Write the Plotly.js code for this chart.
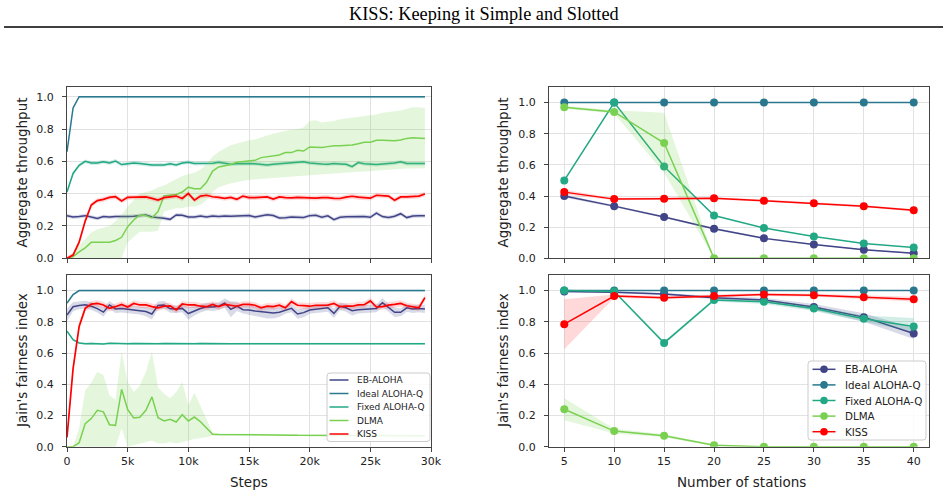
<!DOCTYPE html>
<html>
<head>
<meta charset="utf-8">
<script src="https://cdn.plot.ly/plotly-3.0.1.min.js"></script>
<style>html,body{margin:0;padding:0;background:#fff;}#chart{width:948px;height:496px;}</style>
</head>
<body>
<div id="chart"></div>
<script>
// ---------- data: left panels (vs steps) ----------
const steps = [0,500,1000,1500,2000,2500,3000,3500,4000,4500,5000,5500,6000,6500,7000,7500,8000,8500,9000,9500,10000,10500,11000,11500,12000,12500,13000,13500,14000,14500,15000,15500,16000,16500,17000,17500,18000,18500,19000,19500,20000,20500,21000,21500,22000,22500,23000,23500,24000,24500,25000,25500,26000,26500,27000,27500,28000,28500,29000,29500];
const stepTicks = [0,5000,10000,15000,20000,25000,30000];
const stepTickText = ['0','5k','10k','15k','20k','25k','30k'];

const thrEB = [0.264,0.255,0.258,0.264,0.255,0.247,0.258,0.255,0.258,0.257, 0.258,0.260,0.263,0.268,0.256,0.254,0.248,0.241,0.268,0.266, 0.255,0.255,0.262,0.256,0.262,0.258,0.262,0.260,0.262,0.262, 0.265,0.255,0.263,0.270,0.265,0.250,0.251,0.256,0.254,0.252, 0.264,0.266,0.254,0.263,0.239,0.254,0.257,0.258,0.260,0.259, 0.254,0.280,0.258,0.252,0.260,0.276,0.252,0.262,0.263,0.263];
const thrIdeal = [0.66,0.93,1,1,1,1,1,1,1,1, 1,1,1,1,1,1,1,1,1,1, 1,1,1,1,1,1,1,1,1,1, 1,1,1,1,1,1,1,1,1,1, 1,1,1,1,1,1,1,1,1,1, 1,1,1,1,1,1,1,1,1,1];
const thrFixed = [0.41,0.525,0.575,0.600,0.590,0.590,0.598,0.590,0.602,0.580, 0.585,0.590,0.587,0.580,0.577,0.577,0.578,0.585,0.578,0.590, 0.595,0.587,0.587,0.587,0.588,0.594,0.590,0.582,0.585,0.587, 0.587,0.585,0.580,0.577,0.582,0.585,0.585,0.588,0.592,0.597, 0.590,0.585,0.584,0.582,0.586,0.584,0.582,0.567,0.592,0.585, 0.582,0.580,0.583,0.586,0.590,0.597,0.587,0.586,0.588,0.586];
const thrDLMA = [0,0.01,0.04,0.065,0.10,0.10,0.10,0.10,0.11,0.13, 0.196,0.237,0.268,0.264,0.250,0.289,0.386,0.390,0.395,0.410, 0.440,0.430,0.430,0.470,0.540,0.565,0.572,0.580,0.595,0.600, 0.602,0.606,0.623,0.629,0.635,0.639,0.654,0.654,0.668,0.664, 0.689,0.687,0.685,0.691,0.697,0.697,0.697,0.701,0.709,0.718, 0.718,0.730,0.730,0.728,0.728,0.732,0.742,0.746,0.744,0.742];
const thrDLMAlo = [0,0,0,0,0,0,0,0,0,0, 0.10,0.13,0.165,0.165,0.165,0.17,0.29,0.30,0.31,0.31, 0.32,0.32,0.33,0.36,0.41,0.44,0.455,0.465,0.47,0.48, 0.485,0.487,0.49,0.495,0.497,0.50,0.503,0.505,0.508,0.51, 0.515,0.517,0.52,0.522,0.525,0.527,0.53,0.532,0.535,0.537, 0.54,0.542,0.545,0.547,0.55,0.552,0.555,0.556,0.557,0.558];
const thrDLMAhi = [0,0.03,0.08,0.12,0.16,0.18,0.19,0.20,0.23,0.27, 0.32,0.36,0.40,0.41,0.42,0.44,0.45,0.47,0.49,0.51, 0.52,0.53,0.55,0.58,0.63,0.66,0.68,0.70,0.71,0.72, 0.73,0.735,0.75,0.76,0.77,0.78,0.79,0.795,0.80,0.81, 0.85,0.855,0.84,0.845,0.85,0.86,0.865,0.87,0.875,0.88, 0.885,0.89,0.90,0.905,0.91,0.915,0.925,0.935,0.935,0.93];
const thrKISS = [0,0.02,0.10,0.23,0.33,0.357,0.365,0.377,0.381,0.355, 0.377,0.377,0.380,0.380,0.371,0.360,0.375,0.381,0.385,0.370, 0.402,0.360,0.385,0.390,0.381,0.377,0.371,0.377,0.365,0.385, 0.376,0.376,0.378,0.380,0.367,0.380,0.376,0.374,0.377,0.375, 0.372,0.372,0.375,0.376,0.371,0.370,0.378,0.384,0.378,0.376, 0.372,0.390,0.388,0.385,0.359,0.380,0.380,0.382,0.385,0.398];
const thrSpreadEB = 0.012, thrSpreadFixed = 0.012, thrSpreadKISS = 0.015, thrSpreadIdeal = 0.01;

const fairEB = [0.844,0.897,0.905,0.910,0.900,0.885,0.862,0.908,0.882,0.885, 0.880,0.876,0.872,0.866,0.850,0.905,0.908,0.883,0.882,0.886, 0.853,0.870,0.885,0.897,0.895,0.900,0.920,0.880,0.900,0.878, 0.876,0.869,0.865,0.861,0.857,0.861,0.876,0.886,0.850,0.859, 0.876,0.882,0.886,0.890,0.854,0.900,0.890,0.871,0.878,0.880, 0.886,0.886,0.923,0.890,0.861,0.861,0.890,0.882,0.886,0.882];
const fairEBspread = [0.04,0.03,0.025,0.025,0.025,0.025,0.03,0.025,0.025,0.025, 0.025,0.025,0.025,0.03,0.035,0.025,0.025,0.025,0.025,0.025, 0.04,0.03,0.025,0.025,0.025,0.025,0.03,0.05,0.03,0.025, 0.03,0.03,0.035,0.04,0.035,0.03,0.025,0.025,0.03,0.03, 0.025,0.025,0.025,0.025,0.03,0.025,0.025,0.03,0.025,0.025, 0.025,0.025,0.03,0.025,0.03,0.025,0.025,0.025,0.025,0.025];
const fairIdeal = [0.92,0.975,1,1,1,1,1,1,1,1, 1,1,1,1,1,1,1,1,1,1, 1,1,1,1,1,1,1,1,1,1, 1,1,1,1,1,1,1,1,1,1, 1,1,1,1,1,1,1,1,1,1, 1,1,1,1,1,1,1,1,1,1];
const fairFixed = [0.74,0.685,0.665,0.660,0.661,0.660,0.658,0.662,0.660,0.660, 0.660,0.661,0.660,0.659,0.660,0.660,0.661,0.660,0.660,0.659, 0.660,0.660,0.661,0.660,0.660,0.660,0.660,0.659,0.660,0.661, 0.660,0.660,0.660,0.660,0.661,0.660,0.660,0.660,0.660,0.660, 0.660,0.660,0.660,0.659,0.660,0.660,0.660,0.660,0.661,0.660, 0.660,0.660,0.660,0.660,0.660,0.660,0.660,0.660,0.660,0.660];
const fairDLMA = [0,0,0.025,0.148,0.180,0.233,0.223,0.141,0.137,0.368, 0.238,0.184,0.188,0.233,0.319,0.186,0.165,0.176,0.158,0.205, 0.165,0.190,0.160,0.120,0.080,0.078,0.078,0.077,0.077,0.077, 0.076,0.076,0.075,0.075,0.075,0.074,0.074,0.074,0.073,0.073, 0.072,0.072,0.072,0.072,0.072,0.072,0.071,0.071,0.071,0.071, 0.071,0.071,0.071,0.070,0.070,0.070,0.070,0.070,0.070,0.070];
const fairDLMAlo = [0,0,0,0,0,0,0,0,0,0.116, 0,0.01,0.02,0.03,0.04,0.02,0.02,0.03,0.02,0.03, 0.04,0.05,0.055,0.06,0.07,0.072,0.072,0.072,0.072,0.072, 0.071,0.071,0.07,0.07,0.07,0.069,0.069,0.069,0.068,0.068, 0.067,0.067,0.067,0.067,0.067,0.067,0.066,0.066,0.066,0.066, 0.066,0.066,0.066,0.065,0.065,0.065,0.065,0.065,0.065,0.065];
const fairDLMAhi = [0,0,0.12,0.36,0.41,0.48,0.46,0.33,0.30,0.61, 0.415,0.35,0.39,0.48,0.61,0.38,0.34,0.31,0.35,0.415, 0.265,0.345,0.26,0.18,0.09,0.085,0.085,0.084,0.084,0.084, 0.083,0.083,0.082,0.082,0.082,0.081,0.081,0.081,0.08,0.08, 0.079,0.079,0.079,0.079,0.079,0.079,0.078,0.078,0.078,0.078, 0.078,0.078,0.078,0.077,0.077,0.077,0.077,0.077,0.077,0.077];
const fairKISS = [0.06,0.50,0.77,0.886,0.914,0.918,0.908,0.886,0.897,0.912, 0.895,0.918,0.908,0.908,0.897,0.890,0.900,0.902,0.876,0.914, 0.908,0.908,0.900,0.897,0.912,0.897,0.912,0.908,0.900,0.912, 0.912,0.906,0.890,0.900,0.897,0.907,0.890,0.929,0.906,0.904, 0.900,0.906,0.907,0.907,0.918,0.897,0.900,0.900,0.908,0.910, 0.934,0.895,0.897,0.907,0.912,0.918,0.903,0.897,0.890,0.955];
const fairSpreadKISS = 0.02, fairSpreadFixed = 0.006, fairSpreadIdeal = 0.008;

// ---------- data: right panels (vs number of stations) ----------
const stations = [5,10,15,20,25,30,35,40];
const rThrEB = [0.40,0.335,0.265,0.19,0.128,0.088,0.055,0.033];
const rThrEBlo = [0.39,0.328,0.258,0.184,0.123,0.084,0.051,0.030];
const rThrEBhi = [0.41,0.342,0.272,0.196,0.133,0.092,0.059,0.036];
const rThrIdeal = [1,1,1,1,1,1,1,1];
const rThrFixed = [0.50,1.0,0.59,0.275,0.195,0.14,0.095,0.07];
const rThrDLMA = [0.97,0.94,0.74,0,0,0,0,0];
const rThrDLMAlo = [0.96,0.93,0.55,0,0,0,0,0];
const rThrDLMAhi = [0.98,0.95,0.935,0,0,0,0,0];
const rThrKISS = [0.425,0.38,0.383,0.385,0.37,0.353,0.335,0.308];
const rThrKISSlo = [0.41,0.372,0.376,0.378,0.363,0.346,0.328,0.301];
const rThrKISShi = [0.44,0.388,0.39,0.392,0.377,0.36,0.342,0.315];

const rFairEB = [0.995,0.99,0.978,0.955,0.94,0.895,0.83,0.725];
const rFairEBlo = [0.99,0.985,0.97,0.945,0.925,0.875,0.80,0.69];
const rFairEBhi = [1.0,0.995,0.985,0.965,0.955,0.915,0.855,0.76];
const rFairIdeal = [1,1,1,1,1,1,1,1];
const rFairFixed = [1.0,0.995,0.665,0.94,0.928,0.885,0.82,0.77];
const rFairFixedlo = [1.0,0.99,0.655,0.93,0.915,0.87,0.80,0.735];
const rFairFixedhi = [1.0,1.0,0.675,0.95,0.94,0.90,0.84,0.825];
const rFairDLMA = [0.24,0.10,0.07,0.01,0,0,0,0];
const rFairDLMAlo = [0.17,0.085,0.06,0.005,0,0,0,0];
const rFairDLMAhi = [0.31,0.115,0.08,0.015,0,0,0,0];
const rFairKISS = [0.785,0.965,0.955,0.965,0.975,0.97,0.957,0.945];
const rFairKISSlo = [0.625,0.955,0.945,0.955,0.965,0.96,0.945,0.93];
const rFairKISShi = [0.945,0.975,0.965,0.975,0.985,0.98,0.97,0.96];

const names = ['EB-ALOHA','Ideal ALOHA-Q','Fixed ALOHA-Q','DLMA','KISS'];

// ---------- styles ----------
const C = {eb:'#414487', ideal:'#2a788e', fixed:'#22a884', dlma:'#7ad151', kiss:'#ff0000'};
const colorList = [C.eb, C.ideal, C.fixed, C.dlma, C.kiss];
const F = {eb:'rgba(65,68,135,0.2)', ideal:'rgba(42,120,142,0.2)', fixed:'rgba(34,168,132,0.2)', dlma:'rgba(122,209,81,0.2)', kiss:'rgba(255,0,0,0.15)'};

function sub(a, s){ return a.map((v,i)=> v - (Array.isArray(s)? s[i] : s)); }
function add(a, s){ return a.map((v,i)=> v + (Array.isArray(s)? s[i] : s)); }

function band(x, lo, hi, fill, xa, ya){
  return [
    {x:x, y:lo, xaxis:xa, yaxis:ya, type:'scatter', mode:'lines', line:{width:0, color:fill}, showlegend:false, hoverinfo:'skip'},
    {x:x, y:hi, xaxis:xa, yaxis:ya, type:'scatter', mode:'lines', line:{width:0, color:fill}, fill:'tonexty', fillcolor:fill, showlegend:false, hoverinfo:'skip'}
  ];
}
function line(x, y, color, name, xa, ya, markers, w){
  const t = {x:x, y:y, xaxis:xa, yaxis:ya, type:'scatter', mode: markers ? 'lines+markers' : 'lines',
    line:{color:color, width:w||1.5}, name:name, showlegend:false};
  if (markers) t.marker = {size:8, color:color};
  return t;
}

const data = [];
// left top
data.push(...band(steps, sub(thrEB,thrSpreadEB), add(thrEB,thrSpreadEB), F.eb, 'x','y'));
data.push(line(steps, thrEB, C.eb, names[0], 'x','y',false));
data.push(...band(steps, sub(thrIdeal,thrSpreadIdeal), add(thrIdeal,thrSpreadIdeal).map(v=>Math.min(v,1.005)), F.ideal, 'x','y'));
data.push(line(steps, thrIdeal, C.ideal, names[1], 'x','y',false));
data.push(...band(steps, sub(thrFixed,thrSpreadFixed), add(thrFixed,thrSpreadFixed), F.fixed, 'x','y'));
data.push(line(steps, thrFixed, C.fixed, names[2], 'x','y',false));
data.push(...band(steps, thrDLMAlo, thrDLMAhi, F.dlma, 'x','y'));
data.push(line(steps, thrDLMA, C.dlma, names[3], 'x','y',false));
data.push(...band(steps, sub(thrKISS,thrSpreadKISS).map(v=>Math.max(v,0)), add(thrKISS,thrSpreadKISS), F.kiss, 'x','y'));
data.push(line(steps, thrKISS, C.kiss, names[4], 'x','y',false,1.7));
// left bottom
data.push(...band(steps, sub(fairEB,fairEBspread), add(fairEB,fairEBspread), F.eb, 'x2','y2'));
data.push(line(steps, fairEB, C.eb, names[0], 'x2','y2',false));
data.push(...band(steps, sub(fairIdeal,fairSpreadIdeal), fairIdeal, F.ideal, 'x2','y2'));
data.push(line(steps, fairIdeal, C.ideal, names[1], 'x2','y2',false));
data.push(...band(steps, sub(fairFixed,fairSpreadFixed), add(fairFixed,fairSpreadFixed), F.fixed, 'x2','y2'));
data.push(line(steps, fairFixed, C.fixed, names[2], 'x2','y2',false));
data.push(...band(steps, fairDLMAlo, fairDLMAhi, F.dlma, 'x2','y2'));
data.push(line(steps, fairDLMA, C.dlma, names[3], 'x2','y2',false));
data.push(...band(steps, sub(fairKISS,fairSpreadKISS).map(v=>Math.max(v,0)), add(fairKISS,fairSpreadKISS), F.kiss, 'x2','y2'));
data.push(line(steps, fairKISS, C.kiss, names[4], 'x2','y2',false,1.7));
// right top
data.push(...band(stations, rThrEBlo, rThrEBhi, F.eb, 'x3','y3'));
data.push(line(stations, rThrEB, C.eb, names[0], 'x3','y3',true));
data.push(line(stations, rThrIdeal, C.ideal, names[1], 'x3','y3',true));
data.push(line(stations, rThrFixed, C.fixed, names[2], 'x3','y3',true));
data.push(...band(stations, rThrDLMAlo, rThrDLMAhi, F.dlma, 'x3','y3'));
data.push(line(stations, rThrDLMA, C.dlma, names[3], 'x3','y3',true));
data.push(...band(stations, rThrKISSlo, rThrKISShi, F.kiss, 'x3','y3'));
data.push(line(stations, rThrKISS, C.kiss, names[4], 'x3','y3',true));
// right bottom
data.push(...band(stations, rFairEBlo, rFairEBhi, F.eb, 'x4','y4'));
data.push(line(stations, rFairEB, C.eb, names[0], 'x4','y4',true));
data.push(line(stations, rFairIdeal, C.ideal, names[1], 'x4','y4',true));
data.push(...band(stations, rFairFixedlo, rFairFixedhi, F.fixed, 'x4','y4'));
data.push(line(stations, rFairFixed, C.fixed, names[2], 'x4','y4',true));
data.push(...band(stations, rFairDLMAlo, rFairDLMAhi, F.dlma, 'x4','y4'));
data.push(line(stations, rFairDLMA, C.dlma, names[3], 'x4','y4',true));
data.push(...band(stations, rFairKISSlo, rFairKISShi, F.kiss, 'x4','y4'));
data.push(line(stations, rFairKISS, C.kiss, names[4], 'x4','y4',true));

const tickFont = {family:'DejaVu Sans, sans-serif', size:11, color:'#222'};
const base = {showline:true, mirror:true, linecolor:'#444', linewidth:1, ticks:'outside', ticklen:4, tickwidth:1, tickcolor:'#444',
  showgrid:true, gridcolor:'#e2e2e2', gridwidth:1, zeroline:false, tickfont:tickFont, fixedrange:true};
const LX = [67/948, 431/948], RX = [549/948, 929/948];
const TY = [1-258.3/496, 1-87/496], BY = [1-446.7/496, 1-275/496];
function ax(extra){ return Object.assign({}, base, extra); }

// pixel -> paper helpers (for legend boxes drawn as shapes)
const W = 948, H = 496;
const px = x => x / W, py = y => 1 - y / H;
function roundedBox(x0, y0, x1, y1, r){
  const p = (x,y) => px(x) + ',' + py(y);
  return 'M' + p(x0+r,y0) + ' L' + p(x1-r,y0) + ' Q' + p(x1,y0) + ' ' + p(x1,y0+r) +
         ' L' + p(x1,y1-r) + ' Q' + p(x1,y1) + ' ' + p(x1-r,y1) +
         ' L' + p(x0+r,y1) + ' Q' + p(x0,y1) + ' ' + p(x0,y1-r) +
         ' L' + p(x0,y0+r) + ' Q' + p(x0,y0) + ' ' + p(x0+r,y0) + ' Z';
}

const shapes = [
  {type:'line', xref:'paper', yref:'paper', x0:px(4), x1:px(943), y0:py(27), y1:py(27), line:{color:'#000', width:1.3}}
];
const annotations = [
  {text:'KISS: Keeping it Simple and Slotted', xref:'paper', yref:'paper', x:px(484), y:py(14), xanchor:'center', yanchor:'middle', showarrow:false,
    font:{family:'Liberation Serif, Times New Roman, serif', size:18.3, color:'#000'}},
  {text:'Aggregate throughput', xref:'paper', yref:'paper', x:px(22), y:py(172.6), textangle:-90, xanchor:'center', yanchor:'middle', showarrow:false, font:{size:13.5, color:'#222'}},
  {text:"Jain's fairness index", xref:'paper', yref:'paper', x:px(22), y:py(361), textangle:-90, xanchor:'center', yanchor:'middle', showarrow:false, font:{size:13.5, color:'#222'}},
  {text:'Aggregate throughput', xref:'paper', yref:'paper', x:px(503), y:py(172.6), textangle:-90, xanchor:'center', yanchor:'middle', showarrow:false, font:{size:13.5, color:'#222'}},
  {text:"Jain's fairness index", xref:'paper', yref:'paper', x:px(503), y:py(361), textangle:-90, xanchor:'center', yanchor:'middle', showarrow:false, font:{size:13.5, color:'#222'}},
  {text:'Steps', xref:'paper', yref:'paper', x:px(249), y:py(482), xanchor:'center', yanchor:'middle', showarrow:false, font:{size:13.5, color:'#222'}},
  {text:'Number of stations', xref:'paper', yref:'paper', x:px(741), y:py(482), xanchor:'center', yanchor:'middle', showarrow:false, font:{size:13.5, color:'#222'}}
];

// legend 1 (left bottom panel): lines only
shapes.push({type:'path', xref:'paper', yref:'paper', path:roundedBox(327,373,430,441.5,3), fillcolor:'rgba(255,255,255,0.85)', line:{color:'#cccccc', width:1}});
names.forEach((n,i)=>{
  const y = 380 + i*13.5;
  shapes.push({type:'line', xref:'paper', yref:'paper', x0:px(329.5), x1:px(348.5), y0:py(y), y1:py(y), line:{color:colorList[i], width:1.5}});
  annotations.push({text:n, xref:'paper', yref:'paper', x:px(355), y:py(y), xanchor:'left', yanchor:'middle', showarrow:false,
    font:{family:'DejaVu Sans, sans-serif', size:9, color:'#222'}});
});
// legend 2 (right bottom panel): lines with markers
shapes.push({type:'path', xref:'paper', yref:'paper', path:roundedBox(808,361,926,440,3), fillcolor:'rgba(255,255,255,0.85)', line:{color:'#cccccc', width:1}});
names.forEach((n,i)=>{
  const y = 369.3 + i*15.6;
  shapes.push({type:'line', xref:'paper', yref:'paper', x0:px(812.5), x1:px(835.5), y0:py(y), y1:py(y), line:{color:colorList[i], width:1.5}});
  shapes.push({type:'circle', xref:'paper', yref:'paper', xsizemode:'pixel', ysizemode:'pixel', xanchor:px(824), yanchor:py(y),
    x0:-3.8, x1:3.8, y0:-3.8, y1:3.8, fillcolor:colorList[i], line:{width:0}});
  annotations.push({text:n, xref:'paper', yref:'paper', x:px(842.5), y:py(y), xanchor:'left', yanchor:'middle', showarrow:false,
    font:{family:'DejaVu Sans, sans-serif', size:10.3, color:'#222'}});
});

const layout = {
  width:W, height:H, margin:{l:0,r:0,t:0,b:0}, paper_bgcolor:'#fff', plot_bgcolor:'#fff',
  font:{family:'DejaVu Sans, sans-serif', color:'#222'}, showlegend:false,
  xaxis: ax({domain:LX, anchor:'y', range:[0,30000], tickvals:stepTicks, showticklabels:false}),
  yaxis: ax({domain:TY, anchor:'x', range:[0,1.06], tickvals:[0,0.2,0.4,0.6,0.8,1.0], tickformat:'.1f', ticklabelstandoff:6}),
  xaxis2: ax({domain:LX, anchor:'y2', range:[0,30000], tickvals:stepTicks, ticktext:stepTickText}),
  yaxis2: ax({domain:BY, anchor:'x2', range:[0,1.1], tickvals:[0,0.2,0.4,0.6,0.8,1.0], tickformat:'.1f', ticklabelstandoff:6}),
  xaxis3: ax({domain:RX, anchor:'y3', range:[3.47,41.53], tickvals:stations, showticklabels:false}),
  yaxis3: ax({domain:TY, anchor:'x3', range:[0,1.1], tickvals:[0,0.2,0.4,0.6,0.8,1.0], tickformat:'.1f', ticklabelstandoff:6}),
  xaxis4: ax({domain:RX, anchor:'y4', range:[3.47,41.53], tickvals:stations}),
  yaxis4: ax({domain:BY, anchor:'x4', range:[0,1.1], tickvals:[0,0.2,0.4,0.6,0.8,1.0], tickformat:'.1f', ticklabelstandoff:6}),
  shapes: shapes,
  annotations: annotations
};

Plotly.newPlot('chart', data, layout, {staticPlot:true, displayModeBar:false});
</script>
</body>
</html>
